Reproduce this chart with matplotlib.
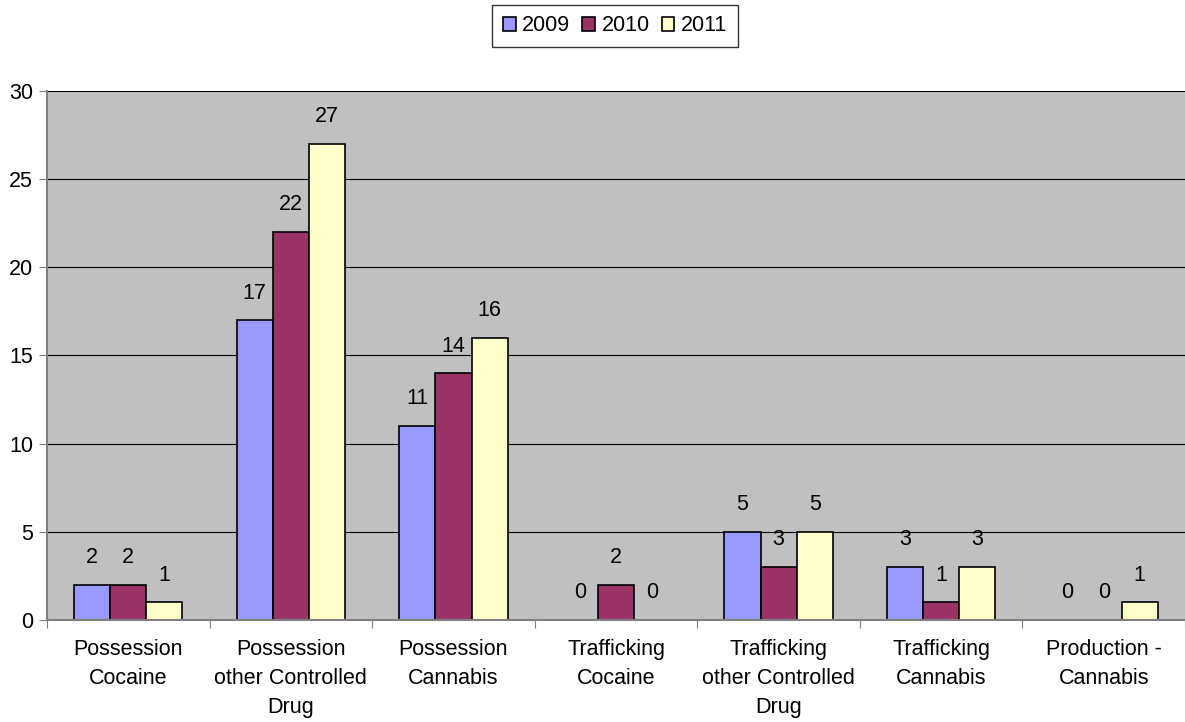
from matplotlib import pyplot as plt
import numpy as np

plt.rcParams['font.family'] = ['Liberation Sans', 'DejaVu Sans']

categorias = ['Possession\nCocaine', 'Possession\nother Controlled\nDrug', 'Possession\nCannabis',
              'Trafficking\nCocaine', 'Trafficking\nother Controlled\nDrug', 'Trafficking\nCannabis',
              'Production -\nCannabis']
años = ['2009', '2010', '2011']
valores_2009 = [2, 17, 11, 0, 5, 3, 0]
valores_2010 = [2, 22, 14, 2, 3, 1, 0]
valores_2011 = [1, 27, 16, 0, 5, 3, 1]
colores = ['#9999FF', '#993366', '#FFFFCC']

fs = 15.5

fig = plt.figure(figsize=(11.85, 7.22), dpi=100)
ax = fig.add_axes([0.0397, 0.1413, 0.9603, 0.7327])
ax.set_facecolor('#C0C0C0')

x = np.arange(len(categorias))
ancho = 0.222
series = [valores_2009, valores_2010, valores_2011]
for k, (vals, col, lab) in enumerate(zip(series, colores, años)):
    pos = x + (k - 1) * ancho
    # las barras a cero no llevan borde
    grosores = [1.2 if v > 0 else 0 for v in vals]
    ax.bar(pos, vals, ancho, color=col, edgecolor='black', linewidth=grosores, label=lab, zorder=3)
    for p, v in zip(pos, vals):
        ax.annotate(str(v), (p, v), xytext=(0, 19.5), textcoords='offset points',
                    ha='center', va='center', fontsize=fs)

ax.set_xlim(-0.5, len(categorias) - 0.5)
ax.set_ylim(0, 30)
ax.set_yticks(range(0, 31, 5))
ax.yaxis.grid(True, color='black', linewidth=0.8, zorder=0)
ax.set_axisbelow(True)

ax.set_xticks(np.arange(len(categorias) + 1) - 0.5)
ax.set_xticklabels([])
ax.set_xticks(x, minor=True)
ax.set_xticklabels(categorias, minor=True, fontsize=fs, linespacing=1.5)
ax.tick_params(axis='x', which='minor', length=0, pad=14)
ax.tick_params(axis='x', which='major', length=6, direction='out', color='#808080')
ax.tick_params(axis='y', length=6, direction='out', color='#808080', labelsize=fs, pad=4)

for s in ['top', 'right']:
    ax.spines[s].set_visible(False)
ax.spines['left'].set_color('#808080')
ax.spines['bottom'].set_color('#808080')
ax.spines['left'].set_linewidth(1.5)
ax.spines['bottom'].set_linewidth(1.5)
ax.spines['bottom'].set_zorder(4)

leg = fig.legend(loc='center', bbox_to_anchor=(0.519, 0.964), ncol=3, fontsize=fs, frameon=True,
                 fancybox=False, edgecolor='black', handlelength=0.6, handleheight=0.6,
                 handletextpad=0.3, columnspacing=0.55, borderpad=0.5)
for h in leg.legend_handles:
    h.set_linewidth(1.2)

plt.savefig('out.png', dpi=100)
